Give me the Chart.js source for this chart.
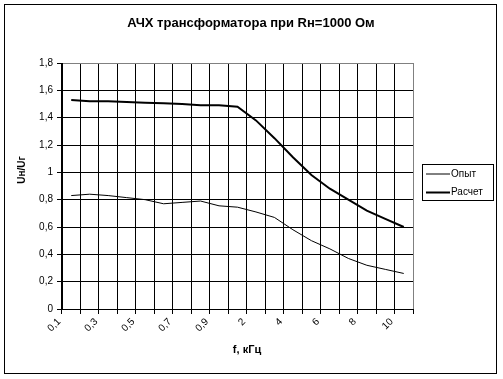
<!DOCTYPE html>
<html>
<head>
<meta charset="utf-8">
<script src="https://cdn.jsdelivr.net/npm/chart.js@4/dist/chart.umd.min.js"></script>
<style>
html,body{margin:0;padding:0;background:#fff;}
#wrap{width:503px;height:379px;position:relative;}
</style>
</head>
<body>
<div id="wrap"><canvas id="c" width="503" height="379"></canvas></div>
<script>
const titleText = 'АЧХ трансформатора при Rн=1000 Ом';
const xTitle = 'f, кГц';
const yTitle = 'Uн/Uг';
const categories = ['0,1','0,2','0,3','0,4','0,5','0,6','0,7','0,8','0,9','1','2','3','4','5','6','7','8','9','10'];
const opyt = [0.83,0.84,0.83,0.815,0.80,0.77,0.78,0.79,0.755,0.745,0.71,0.67,0.58,0.50,0.44,0.37,0.32,0.29,0.26];
const raschet = [1.53,1.52,1.52,1.515,1.51,1.505,1.50,1.49,1.49,1.48,1.38,1.25,1.11,0.98,0.88,0.80,0.72,0.66,0.60];
const seriesNames = ['Опыт','Расчет'];

const FONT = '"Liberation Sans", Arial, sans-serif';
Chart.defaults.font.family = FONT;
Chart.defaults.color = '#000';

const decor = {
  id: 'decor',
  afterDraw(chart) {
    const ctx = chart.ctx;
    ctx.save();
    ctx.strokeStyle = '#000';
    ctx.lineWidth = 1;
    ctx.strokeRect(4.5, 4.5, 492, 369);
    ctx.fillStyle = '#000';
    ctx.textAlign = 'center';
    ctx.textBaseline = 'middle';
    ctx.font = 'bold 13px ' + FONT;
    ctx.fillText(titleText, 251, 23);
    ctx.font = 'bold 11px ' + FONT;
    ctx.fillText(xTitle, 247, 350);
    ctx.save();
    ctx.translate(22, 170);
    ctx.rotate(-Math.PI / 2);
    ctx.font = 'bold 10px ' + FONT;
    ctx.fillText(yTitle, 0, 0);
    ctx.restore();
    ctx.strokeStyle = '#000';
    ctx.lineWidth = 1;
    ctx.strokeRect(422.5, 164.5, 71, 36);
    ctx.font = '10px ' + FONT;
    ctx.textAlign = 'left';
    chart.data.datasets.forEach((ds, i) => {
      const y = 174 + i * 18.5;
      ctx.beginPath();
      ctx.lineWidth = ds.borderWidth;
      ctx.strokeStyle = ds.borderColor;
      ctx.moveTo(426, y);
      ctx.lineTo(450, y);
      ctx.stroke();
      ctx.fillText(ds.label, 451, y);
    });
    ctx.restore();
  }
};

new Chart(document.getElementById('c'), {
  type: 'line',
  data: {
    labels: categories,
    datasets: [
      { label: seriesNames[0], data: opyt, borderColor: '#000', borderWidth: 1, pointRadius: 0, tension: 0, fill: false },
      { label: seriesNames[1], data: raschet, borderColor: '#000', borderWidth: 2, pointRadius: 0, tension: 0, fill: false }
    ]
  },
  options: {
    responsive: false,
    animation: false,
    devicePixelRatio: 1,
    layout: { padding: { top: 63, right: 90, left: 0, bottom: 0 } },
    plugins: {
      legend: { display: false },
      title: { display: false },
      tooltip: { enabled: false }
    },
    scales: {
      x: {
        type: 'category',
        offset: true,
        afterFit(scale) { scale.height = 70; },
        grid: {
          offset: true,
          color: (c) => c.index === undefined ? '#808080' : '#000',
          lineWidth: 1,
          tickLength: 5,
          tickColor: '#000'
        },
        border: { color: '#000', width: 1 },
        ticks: {
          autoSkip: false,
          minRotation: 45,
          maxRotation: 45,
          labelOffset: -12,
          font: { size: 10 },
          color: '#000',
          padding: 2,
          callback: (v, i) => (i % 2 === 0 ? categories[i] : '')
        }
      },
      y: {
        min: 0,
        max: 1.8,
        afterFit(scale) { scale.width = 62; },
        grid: {
          color: (c) => (c.tick && Math.abs(c.tick.value - 1.8) < 1e-6) ? '#808080' : '#000',
          lineWidth: 1,
          tickLength: 5,
          tickColor: '#000'
        },
        border: { color: '#000', width: 1 },
        ticks: {
          stepSize: 0.2,
          font: { size: 10 },
          color: '#000',
          padding: 4,
          callback: (v) => String(Number(v.toFixed(1))).replace('.', ',')
        }
      }
    }
  },
  plugins: [decor]
});
</script>
</body>
</html>
